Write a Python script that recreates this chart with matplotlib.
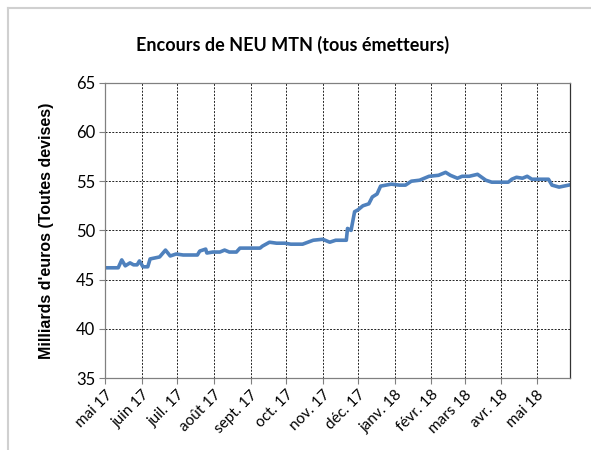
import numpy as np
import pandas as pd
import matplotlib
matplotlib.use("Agg")
import matplotlib.pyplot as plt
import matplotlib.dates as mdates
from matplotlib.lines import Line2D

## Data (billions of euros)
dates = ["2017-05-01", "2017-05-12", "2017-05-15", "2017-05-18", "2017-05-22", "2017-05-25",
         "2017-05-28", "2017-05-30", "2017-06-02", "2017-06-06", "2017-06-08", "2017-06-16",
         "2017-06-21", "2017-06-25", "2017-06-30", "2017-07-06", "2017-07-18", "2017-07-20",
         "2017-07-25", "2017-07-26", "2017-07-31", "2017-08-06", "2017-08-10", "2017-08-14",
         "2017-08-20", "2017-08-23", "2017-08-28", "2017-09-09", "2017-09-11", "2017-09-17",
         "2017-09-23", "2017-09-30", "2017-10-05", "2017-10-10", "2017-10-15", "2017-10-24",
         "2017-11-01", "2017-11-07", "2017-11-12", "2017-11-21", "2017-11-22", "2017-11-25",
         "2017-11-28", "2017-12-01", "2017-12-05", "2017-12-10", "2017-12-13", "2017-12-17",
         "2017-12-20", "2017-12-29", "2018-01-05", "2018-01-10", "2018-01-15", "2018-01-22",
         "2018-01-30", "2018-02-07", "2018-02-13", "2018-02-17", "2018-02-23", "2018-02-27",
         "2018-03-05", "2018-03-12", "2018-03-19", "2018-03-24", "2018-04-07", "2018-04-10",
         "2018-04-14", "2018-04-19", "2018-04-23", "2018-04-27", "2018-05-03", "2018-05-11",
         "2018-05-14", "2018-05-20", "2018-05-28"]
encours = [46.2, 46.2, 47.0, 46.4, 46.7, 46.5,
           46.5, 46.9, 46.3, 46.3, 47.1, 47.3,
           48.0, 47.4, 47.6, 47.5, 47.5, 47.9,
           48.1, 47.7, 47.8, 47.8, 48.0, 47.8,
           47.8, 48.2, 48.2, 48.2, 48.4, 48.8,
           48.7, 48.7, 48.6, 48.6, 48.6, 49.0,
           49.1, 48.8, 49.0, 49.0, 50.2, 50.0,
           51.9, 52.1, 52.5, 52.7, 53.4, 53.7,
           54.5, 54.7, 54.6, 54.6, 55.0, 55.1,
           55.5, 55.6, 55.9, 55.6, 55.3, 55.5,
           55.5, 55.7, 55.1, 54.9, 54.9, 55.2,
           55.4, 55.3, 55.5, 55.2, 55.2, 55.2,
           54.6, 54.4, 54.6]

month_labels = ["mai 17", "juin 17", "juil. 17", "août 17", "sept. 17", "oct. 17", "nov. 17",
                "déc. 17", "janv. 18", "févr. 18", "mars 18", "avr. 18", "mai 18"]
y_ticks = [35, 40, 45, 50, 55, 60, 65]

dates = pd.to_datetime(dates)
month_ticks = pd.date_range("2017-05-01", periods=len(month_labels), freq="MS")

fig = plt.figure(figsize=(5.91, 4.5), dpi=100)
ax = fig.add_axes([0.178, 0.16, 0.786, 0.656])

ax.plot(dates, encours, color="#4F81BD", lw=2.6, solid_joinstyle="round")

ax.set_xlim(pd.Timestamp("2017-05-01"), pd.Timestamp("2018-05-29"))
ax.set_ylim(35, 65)
ax.set_yticks(y_ticks)
ax.set_xticks(month_ticks)
ax.set_xticklabels(month_labels, rotation=45, ha="right", rotation_mode="anchor",
                   fontsize=11, family="Lato")
for lbl in ax.get_yticklabels():
    lbl.set_family("Lato")
    lbl.set_fontsize(12)

ax.grid(True, color="#222222", linestyle=(0, (2, 1.5)), linewidth=0.7)
for s in ax.spines.values():
    s.set_color("#808080")
    s.set_linewidth(0.9)
ax.spines["right"].set_color("#333333")
ax.tick_params(axis="both", direction="out", length=4, color="#808080", pad=3)

ax.set_ylabel("Milliards d'euros (Toutes devises)", fontsize=11.5, fontweight="bold",
              family="Liberation Sans", labelpad=16)
fig.text(0.495, 0.9, "Encours de NEU MTN (tous émetteurs)", ha="center", va="center",
         fontsize=13, fontweight="bold", family="Lato")

# light frame around chart (left and top edges)
fig.add_artist(Line2D([8/591, 8/591], [0, 1 - 8/450], color="#D0D0D0", lw=1.5))
fig.add_artist(Line2D([8/591, 1], [1 - 8/450, 1 - 8/450], color="#D0D0D0", lw=1.5))

fig.savefig("out.png", dpi=100)
